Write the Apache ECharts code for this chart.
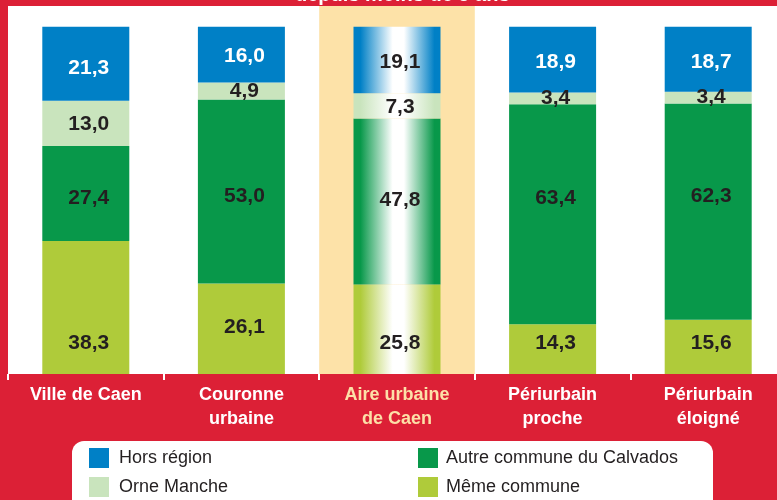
<!DOCTYPE html>
<html>
<head>
<meta charset="utf-8">
<script src="https://cdn.jsdelivr.net/npm/echarts@6/dist/echarts.min.js"></script>
<style>
  html, body { margin: 0; padding: 0; background: #dc2036; overflow: hidden; }
  #chart { width: 786px; height: 500px; }
</style>
</head>
<body>
<div id="chart"></div>
<script>
// catégories (zones)
const zones = ['Ville de Caen', 'Couronne\nurbaine', 'Aire urbaine\nde Caen', 'Périurbain\nproche', 'Périurbain\néloigné'];

// parts en % (du bas vers le haut de la pile)
const memeCommune = [38.3, 26.1, 25.8, 14.3, 15.6];
const autreCalvados = [27.4, 53.0, 47.8, 63.4, 62.3];
const orneManche = [13.0, 4.9, 7.3, 3.4, 3.4];
const horsRegion = [21.3, 16.0, 19.1, 18.9, 18.7];

// décalage vertical des étiquettes (px)
const dyMeme = [36, -1, 14, -6, -4];
const dyAutre = [5, 5, -1, -16, -15];
const dyOrne = [1, 0, 1, 0, 0];
const dyHors = [4, 2, 2, 3, 3];

const highlight = 2; // colonne mise en valeur
const labelFont = 'Liberation Sans, Arial, sans-serif';

// le graphique déborde un peu à droite de la fenêtre, comme dans l'original
const chart = echarts.init(document.getElementById('chart'));

// dégradé horizontal pour la colonne mise en valeur
const shine = (c) => new echarts.graphic.LinearGradient(0, 0, 1, 0, [
  { offset: 0, color: c },
  { offset: 0.08, color: c },
  { offset: 0.45, color: '#ffffff' },
  { offset: 0.58, color: '#ffffff' },
  { offset: 0.93, color: c },
  { offset: 1, color: c }
]);

const makeSeries = (name, values, color, dy, txtColor) => ({
  name: name,
  type: 'bar',
  stack: 'total',
  barWidth: 87,
  itemStyle: { color: color },
  data: values.map((v, i) => ({
    value: v,
    itemStyle: i === highlight ? { color: shine(color) } : undefined,
    label: {
      offset: [3, dy[i]],
      color: (typeof txtColor === 'function') ? txtColor(i) : txtColor
    }
  })),
  label: {
    show: true,
    position: 'inside',
    fontFamily: labelFont,
    fontWeight: 'bold',
    fontSize: 21,
    formatter: (p) => p.value.toFixed(1).replace('.', ',')
  }
});

const option = {
  backgroundColor: '#dc2036',
  animation: false,
  title: {
    text: 'depuis moins de 5 ans',
    left: 290,
    top: -20,
    textStyle: { color: '#ffffff', fontSize: 20, fontWeight: 'bold', fontFamily: labelFont }
  },
  graphic: [
    {
      type: 'rect',
      shape: { x: 72, y: 441, width: 641, height: 80, r: 12 },
      style: { fill: '#ffffff' },
      z: 0
    }
  ],
  grid: {
    left: 8,
    right: 0,
    top: 6,
    bottom: 126,
    show: true,
    backgroundColor: '#ffffff',
    borderWidth: 0
  },
  legend: [
    {
      orient: 'vertical',
      left: 89,
      top: 448,
      icon: 'rect',
      itemWidth: 20,
      itemHeight: 20,
      itemGap: 9,
      padding: 0,
      textStyle: { fontSize: 18, color: '#231f20', fontFamily: labelFont, padding: [0, 0, 0, 5] },
      data: ['Hors région', 'Orne Manche']
    },
    {
      orient: 'vertical',
      left: 418,
      top: 448,
      icon: 'rect',
      itemWidth: 20,
      itemHeight: 20,
      itemGap: 9,
      padding: 0,
      textStyle: { fontSize: 18, color: '#231f20', fontFamily: labelFont, padding: [0, 0, 0, 3] },
      data: ['Autre commune du Calvados', 'Même commune']
    }
  ],
  xAxis: {
    type: 'category',
    data: zones.map((z, i) => i === highlight ? { value: z, textStyle: { color: '#fde0a8' } } : z),
    axisLine: { show: false },
    axisTick: { show: true, length: 6, lineStyle: { color: '#ffffff', width: 2 } },
    axisLabel: {
      color: '#ffffff',
      fontFamily: labelFont,
      fontWeight: 'bold',
      fontSize: 18,
      lineHeight: 24,
      margin: 9,
      interval: 0
    },
    splitArea: {
      show: true,
      areaStyle: { color: zones.map((z, i) => i === highlight ? '#fde2a8' : 'rgba(255,255,255,0)') }
    }
  },
  yAxis: {
    type: 'value',
    min: 0,
    max: 106,
    show: false
  },
  series: [
    makeSeries('Même commune', memeCommune, '#afcb3a', dyMeme, '#231f20'),
    makeSeries('Autre commune du Calvados', autreCalvados, '#08984a', dyAutre, '#231f20'),
    makeSeries('Orne Manche', orneManche, '#c9e4bd', dyOrne, '#231f20'),
    makeSeries('Hors région', horsRegion, '#0080c6', dyHors, (i) => i === highlight ? '#231f20' : '#ffffff')
  ]
};

chart.setOption(option);
</script>
</body>
</html>
